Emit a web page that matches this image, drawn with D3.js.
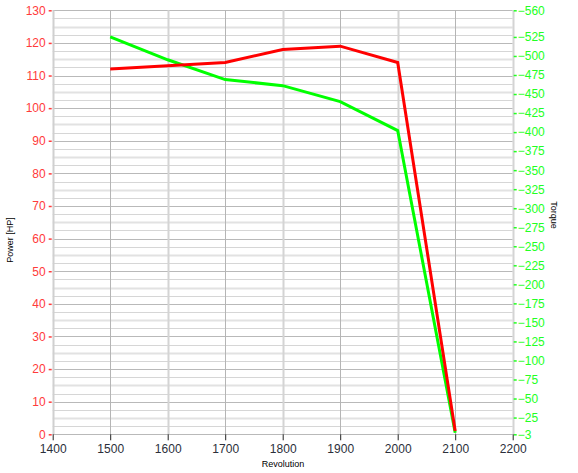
<!DOCTYPE html>
<html>
<head>
<meta charset="utf-8">
<script src="https://cdn.jsdelivr.net/npm/d3@7"></script>
<style>
  body { margin: 0; background: #fff; }
  svg { font-family: "Liberation Sans", Arial, sans-serif; }
</style>
</head>
<body>
<div id="chart"></div>
<script>
// data
const revolutions = [1500, 1600, 1700, 1800, 1900, 2000, 2100]
const power = [112, 113, 114, 118, 119, 114, 1]
const torque = [-525, -495, -469, -461, -440, -402, -5]
const xTicks = [1400, 1500, 1600, 1700, 1800, 1900, 2000, 2100, 2200]
const powerTicks = d3.range(0, 131, 10)
const torqueTicks = [-3].concat(d3.range(-25, -526, -25), [-560])

const width = 578, height = 473
const svg = d3.select('#chart').append('svg')
  .attr('width', width)
  .attr('height', height)

const x = d3.scaleLinear().domain([1400, 2200]).range([52.7, 512.7])
const yPow = d3.scaleLinear().domain([0, 130]).range([434.3, 10.3])
const yTor = d3.scaleLinear().domain([-3, -560]).range([434.3, 10.3])

// horizontal grid, every 2.5 HP, darker on the tens
const grid = svg.append('g')
grid.selectAll('.hgrid')
  .data(d3.range(0, 130.1, 2.5))
  .enter().append('line')
  .attr('x1', x(1400)).attr('x2', x(2200))
  .attr('y1', d => Math.round(yPow(d)) + 0.5)
  .attr('y2', d => Math.round(yPow(d)) + 0.5)
  .attr('stroke', d => d % 10 === 0 ? '#b9b9b9' : (d % 5 === 0 ? '#e2e2e2' : '#d6d6d6'))
  .attr('stroke-width', d => d % 5 === 0 && d % 10 !== 0 ? 2 : 1)

grid.selectAll('.vgrid')
  .data(xTicks)
  .enter().append('line')
  .attr('x1', d => Math.round(x(d)) + 0.5)
  .attr('x2', d => Math.round(x(d)) + 0.5)
  .attr('y1', yPow(130)).attr('y2', yPow(0))
  .attr('stroke', (d, i) => i === 0 ? '#d0d0d0' : (i % 2 ? '#b5b5b5' : '#d4d4d4'))
  .attr('stroke-width', (d, i) => i % 2 ? 1 : 2)

// left axis (power)
const leftAxis = svg.append('g')
  .attr('transform', `translate(${x(1400) - 1},0)`)
  .call(d3.axisLeft(yPow).tickValues(powerTicks).tickSize(3).tickPadding(3))
leftAxis.select('.domain').remove()
leftAxis.selectAll('line').attr('stroke', '#ff3b3b').attr('stroke-width', 1.5)
leftAxis.selectAll('text').attr('fill', '#ff3b3b').style('font-size', '12px')

// right axis (torque)
const rightAxis = svg.append('g')
  .attr('transform', `translate(${x(2200) + 1},0)`)
  .call(d3.axisRight(yTor).tickValues(torqueTicks).tickSize(3).tickPadding(1))
rightAxis.select('.domain').remove()
rightAxis.selectAll('line').attr('stroke', '#22ff22').attr('stroke-width', 1.5)
rightAxis.selectAll('text').attr('fill', '#22ff22').style('font-size', '12px')

// bottom axis
const bottomAxis = svg.append('g')
  .attr('transform', `translate(0,${yPow(0)})`)
  .call(d3.axisBottom(x).tickValues(xTicks).tickFormat(d3.format('d')).tickSize(6).tickPadding(4))
bottomAxis.select('.domain').remove()
bottomAxis.selectAll('line').attr('stroke', '#222')
bottomAxis.selectAll('text').attr('fill', '#2b2f3a').style('font-size', '12px')

// axis titles
svg.append('text')
  .attr('transform', 'translate(13,240) rotate(-90)')
  .attr('text-anchor', 'middle')
  .style('font-size', '9px')
  .text('Power [HP]')
svg.append('text')
  .attr('transform', 'translate(551,215) rotate(90)')
  .attr('text-anchor', 'middle')
  .style('font-size', '9px')
  .text('Torque')
svg.append('text')
  .attr('x', 283).attr('y', 467)
  .attr('text-anchor', 'middle')
  .style('font-size', '9px')
  .text('Revolution')

// series
const torqueLine = d3.line().x((d, i) => x(revolutions[i])).y(d => yTor(d))
const powerLine = d3.line().x((d, i) => x(revolutions[i])).y(d => yPow(d))

svg.append('path')
  .datum(torque)
  .attr('d', torqueLine)
  .attr('fill', 'none')
  .attr('stroke', '#00ff00')
  .attr('stroke-width', 3)

svg.append('path')
  .datum(power)
  .attr('d', powerLine)
  .attr('fill', 'none')
  .attr('stroke', '#ff0000')
  .attr('stroke-width', 3)
</script>
</body>
</html>
